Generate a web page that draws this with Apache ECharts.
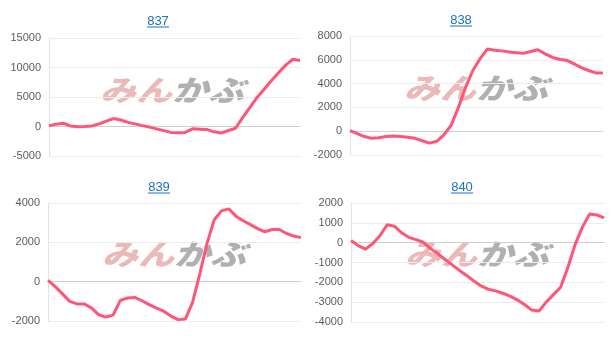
<!DOCTYPE html>
<html><head><meta charset="utf-8">
<style>html,body{margin:0;padding:0;background:#fff}#c{width:612px;height:339px}</style>
<script src="https://cdn.jsdelivr.net/npm/echarts@6/dist/echarts.min.js"></script>
</head><body><div id="c"></div>
<script>
const titles = ['837', '838', '839', '840'];
const s837 = [100,400,550,100,-50,0,100,450,900,1350,1100,700,450,150,-100,-400,-700,-1000,-1050,-1000,-400,-450,-500,-900,-1100,-700,-300,1500,3200,4900,6300,7750,9100,10400,11400,11200];
const s838 = [50,-200,-450,-600,-550,-450,-400,-450,-500,-600,-800,-1000,-850,-300,500,2000,3700,5100,6100,6900,6800,6750,6650,6600,6550,6700,6850,6500,6200,6050,5950,5650,5350,5100,4900,4900];
const s839 = [70,-250,-620,-1000,-1130,-1130,-1330,-1680,-1800,-1700,-950,-830,-800,-970,-1170,-1350,-1500,-1750,-1930,-1900,-1050,400,1950,3150,3600,3700,3330,3100,2900,2700,2530,2650,2650,2450,2320,2240];
const s840 = [110,-150,-330,-50,350,900,830,500,270,150,20,-300,-550,-850,-1120,-1400,-1650,-1930,-2180,-2350,-2430,-2550,-2700,-2880,-3120,-3400,-3450,-3000,-2620,-2250,-1250,-100,770,1440,1400,1250];
const seriesData = [s837, s838, s839, s840];
const yMin = [-5000, -2000, -2000, -4000];
const yMax = [15000, 8000, 4000, 2000];
const yStep = [5000, 2000, 2000, 1000];
const cats = s837.map((_, i) => i);

const grids = [
  {left: 49, top: 38, width: 251, height: 118},
  {left: 350, top: 36, width: 253, height: 119},
  {left: 48, top: 203, width: 253, height: 118},
  {left: 351, top: 203, width: 253, height: 119}
];
const titlePos = [[158, 21], [461, 20], [159, 187], [462, 187]];
const markPos = [[172, 90], [476, 88], [174, 254], [477, 254]];

const graphic = [];
titles.forEach((t, i) => {
  const [x, y] = titlePos[i];
  graphic.push({type: 'text', x: x, y: y, z: 10, style: {text: t, fill: '#1a6fc9', font: '13px Arial, "Liberation Sans", sans-serif', textAlign: 'center', textVerticalAlign: 'middle'}});
  graphic.push({type: 'line', z: 10, shape: {x1: x - 11, y1: y + 6, x2: x + 11, y2: y + 6}, style: {stroke: '#1a6fc9', lineWidth: 1}});
  const [mx, my] = markPos[i];
  graphic.push({type: 'text', x: mx - 36, y: my, z: 0, scaleY: 0.8, style: {text: 'みん', fill: '#ebb9b9', font: 'italic 900 36px "Noto Sans CJK JP", sans-serif', textAlign: 'center', textVerticalAlign: 'middle'}});
  graphic.push({type: 'text', x: mx + 36, y: my, z: 0, scaleY: 0.8, style: {text: 'かぶ', fill: '#b0b0b0', font: 'italic 900 36px "Noto Sans CJK JP", sans-serif', textAlign: 'center', textVerticalAlign: 'middle'}});
});

const option = {
  animation: false,
  grid: grids,
  xAxis: grids.map((g, i) => ({
    type: 'category', gridIndex: i, data: cats, boundaryGap: false,
    axisLabel: {show: false}, axisTick: {show: false},
    axisLine: {show: true, onZero: true, lineStyle: {color: '#cfcfcf', width: 1}}
  })),
  yAxis: grids.map((g, i) => ({
    type: 'value', gridIndex: i, min: yMin[i], max: yMax[i], interval: yStep[i],
    axisLine: {show: true, lineStyle: {color: '#e3e3e3'}},
    axisTick: {show: false},
    axisLabel: {color: '#5c5c5c', fontSize: 11, fontFamily: 'Arial, "Liberation Sans", sans-serif', margin: 8, formatter: v => String(v)},
    splitLine: {lineStyle: {color: '#ececec'}}
  })),
  series: seriesData.map((d, i) => ({
    type: 'line', xAxisIndex: i, yAxisIndex: i, data: d, showSymbol: false, symbol: 'none',
    lineStyle: {color: '#ff5577', width: 3}, itemStyle: {color: '#ff5577'}, z: 5
  })),
  graphic: graphic
};
const chart = echarts.init(document.getElementById('c'));
chart.setOption(option);
</script></body></html>
